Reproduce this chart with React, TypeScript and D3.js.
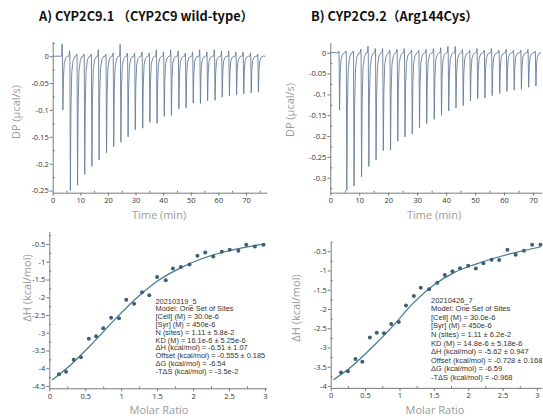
import React, { useEffect, useRef } from "react";
import * as d3 from "d3";

const W = 543;
const H = 416;

// raw thermograms: injection time (min), peak minimum and small upward kick (µcal/s)
const timesA = [3.5, 6.2, 8.8, 11.4, 14.0, 16.6, 19.3, 21.9, 24.5, 27.1, 29.7, 32.4, 35.0, 37.6, 40.2, 42.8, 45.5, 48.1, 50.7, 53.3, 55.9, 58.6, 61.2, 63.8, 66.4, 69.0, 71.7, 74.3];
const peaksA = [-0.1, -0.25, -0.24, -0.22, -0.205, -0.193, -0.18, -0.168, -0.16, -0.15, -0.137, -0.134, -0.123, -0.125, -0.112, -0.11, -0.098, -0.096, -0.087, -0.088, -0.083, -0.082, -0.076, -0.074, -0.072, -0.07, -0.068, -0.067];
const kicksA = [0.023, 0.01, 0.004, 0.004, 0.004, 0.012, 0.004, 0.006, 0.022, 0.006, 0.006, 0.008, 0.006, 0.012, 0.008, 0.012, 0.01, 0.006, 0.008, 0.012, 0.008, 0.012, 0.01, 0.01, 0.008, 0.008, 0.006, 0.004];

const timesB = [3.0, 5.5, 8.0, 10.6, 13.1, 15.6, 18.1, 20.6, 23.1, 25.6, 28.1, 30.6, 33.1, 35.7, 38.2, 40.7, 43.2, 45.7, 48.2, 50.7, 53.2, 55.7, 58.3, 60.8, 63.3, 65.8, 68.3, 70.8];
const peaksB = [-0.138, -0.331, -0.32, -0.298, -0.273, -0.257, -0.235, -0.233, -0.212, -0.202, -0.195, -0.18, -0.17, -0.16, -0.15, -0.14, -0.133, -0.127, -0.116, -0.11, -0.109, -0.103, -0.098, -0.093, -0.09, -0.088, -0.083, -0.08];
const kicksB = [0.004, 0.004, 0.004, 0.008, 0.016, 0.01, 0.01, 0.006, 0.008, 0.01, 0.006, 0.006, 0.008, 0.01, 0.012, 0.015, 0.015, 0.008, 0.006, 0.01, 0.006, 0.01, 0.006, 0.008, 0.006, 0.006, 0.008, 0.004];

// integrated heats (kcal/mol) vs molar ratio
const ratioA = [0.135, 0.233, 0.34, 0.44, 0.55, 0.65, 0.75, 0.86, 0.97, 1.07, 1.18, 1.29, 1.39, 1.5, 1.62, 1.72, 1.83, 1.95, 2.06, 2.17, 2.28, 2.4, 2.51, 2.63, 2.74, 2.86, 2.98];
const heatA = [-4.17, -4.1, -3.76, -3.69, -3.17, -3.1, -2.87, -2.58, -2.59, -2.07, -2.18, -1.86, -1.94, -1.43, -1.52, -1.19, -1.15, -1.08, -0.83, -0.74, -0.85, -0.72, -0.66, -0.69, -0.52, -0.57, -0.52];
const fitRatioA = [0.04, 0.3, 0.6, 0.9, 1.2, 1.5, 1.8, 2.1, 2.4, 2.7, 3.0];
const fitHeatA = [-4.33, -3.9, -3.3, -2.65, -2.05, -1.55, -1.2, -0.93, -0.74, -0.6, -0.5];

const ratioB = [0.15, 0.25, 0.36, 0.46, 0.57, 0.67, 0.775, 0.88, 0.99, 1.095, 1.21, 1.31, 1.43, 1.55, 1.66, 1.77, 1.88, 2.0, 2.11, 2.22, 2.34, 2.45, 2.57, 2.69, 2.81, 2.93, 3.05];
const heatB = [-3.65, -3.62, -3.3, -3.37, -2.74, -2.62, -2.63, -2.39, -2.34, -1.91, -1.66, -1.45, -1.49, -1.32, -1.12, -1.02, -0.94, -0.88, -0.95, -0.81, -0.72, -0.73, -0.46, -0.59, -0.49, -0.33, -0.33];
const fitRatioB = [0.04, 0.3, 0.6, 0.9, 1.2, 1.5, 1.8, 2.1, 2.4, 2.7, 3.05];
const fitHeatB = [-3.84, -3.5, -3.0, -2.45, -1.85, -1.38, -1.05, -0.84, -0.67, -0.53, -0.39];

const infoA = [
  "20210319_5",
  "Model: One Set of Sites",
  "[Cell] (M) = 30.0e-6",
  "[Syr] (M) = 450e-6",
  "N (sites) = 1.11 ± 5.8e-2",
  "KD (M) = 16.1e-6 ± 5.25e-6",
  "ΔH (kcal/mol) = -6.51 ± 1.07",
  "Offset (kcal/mol) = -0.555 ± 0.185",
  "ΔG (kcal/mol) = -6.54",
  "-TΔS (kcal/mol) = -3.5e-2",
];
const infoB = [
  "20210426_7",
  "Model: One Set of Sites",
  "[Cell] (M) = 30.0e-6",
  "[Syr] (M) = 450e-6",
  "N (sites) = 1.11 ± 6.2e-2",
  "KD (M) = 14.8e-6 ± 5.18e-6",
  "ΔH (kcal/mol) = -5.62 ± 0.947",
  "Offset (kcal/mol) = -0.728 ± 0.168",
  "ΔG (kcal/mol) = -6.59",
  "-TΔS (kcal/mol) = -0.968",
];

const timeTicks = [0, 10, 20, 30, 40, 50, 60, 70];
const timeMinor = [5, 15, 25, 35, 45, 55, 65, 75];
const dpTicksA = [0, -0.05, -0.1, -0.15, -0.2, -0.25];
const dpTicksB = [0, -0.05, -0.1, -0.15, -0.2, -0.25, -0.3];
const dpMinor = [0.025, -0.025, -0.075, -0.125, -0.175, -0.225, -0.275, -0.325];
const ratioTicks = [0, 0.5, 1, 1.5, 2, 2.5, 3];
const ratioMinor = [0.25, 0.75, 1.25, 1.75, 2.25, 2.75];
const heatTicksA = [-0.5, -1, -1.5, -2, -2.5, -3, -3.5, -4, -4.5];
const heatTicksB = [-0.5, -1, -1.5, -2, -2.5, -3, -3.5, -4];
const heatMinor = [-0.25, -0.75, -1.25, -1.75, -2.25, -2.75, -3.25, -3.75, -4.25];

const AXIS = "#6b6b6b";
const TICK_FONT = "'Open Sans', 'DejaVu Sans', sans-serif";

const drawAxes = (g, x, y, xT, xM, yT, yM) => {
  const [x0] = x.range();
  const [y0] = y.range();
  const inX = (v) => v >= Math.min(...x.domain()) && v <= Math.max(...x.domain());
  const inY = (v) => v >= Math.min(...y.domain()) && v <= Math.max(...y.domain());

  const gx = g
    .append("g")
    .attr("transform", `translate(0,${y0})`)
    .call(d3.axisBottom(x).tickValues(xT).tickSize(3).tickSizeOuter(0).tickPadding(2).tickFormat((d) => String(d)));
  g.append("g")
    .attr("transform", `translate(0,${y0})`)
    .call(d3.axisBottom(x).tickValues(xM.filter(inX)).tickSize(-2).tickFormat(() => ""))
    .call((s) => s.select(".domain").remove());

  const gy = g
    .append("g")
    .attr("transform", `translate(${x0},0)`)
    .call(d3.axisLeft(y).tickValues(yT).tickSize(3).tickSizeOuter(0).tickPadding(1).tickFormat((d) => String(d)));
  g.append("g")
    .attr("transform", `translate(${x0},0)`)
    .call(d3.axisLeft(y).tickValues(yM.filter(inY)).tickSize(-2).tickFormat(() => ""))
    .call((s) => s.select(".domain").remove());

  g.selectAll(".domain, .tick line").attr("stroke", AXIS).attr("stroke-width", 0.9);
  [gx, gy].forEach((a) =>
    a.selectAll("text").attr("font-size", 7.5).attr("font-family", TICK_FONT).attr("fill", "#333")
  );
};

const axisTitle = (g, text, cx, cy, rotate) => {
  g.append("text")
    .attr("transform", `translate(${cx},${cy})${rotate ? " rotate(-90)" : ""}`)
    .attr("text-anchor", "middle")
    .attr("dominant-baseline", "central")
    .attr("font-family", TICK_FONT)
    .attr("font-size", 11)
    .attr("fill", "#9a9a9a")
    .text(text);
};

const thermogram = (g, times, peaks, kicks, x, y) => {
  const pts = [[0, 0]];
  times.forEach((t, i) => {
    const p = peaks[i];
    pts.push([t - 0.25, 0], [t - 0.08, kicks[i]], [t + 0.02, 0], [t + 0.2, p], [t + 0.4, p * 0.4], [t + 0.7, p * 0.12], [t + 1.2, p * 0.03], [t + 1.9, 0]);
  });
  pts.push([x.domain()[1] - 0.5, 0]);
  g.append("path")
    .datum(pts)
    .attr("fill", "none")
    .attr("stroke", "#667f99")
    .attr("stroke-width", 0.9)
    .attr("stroke-linejoin", "round")
    .attr("d", d3.line().x((d) => x(d[0])).y((d) => y(d[1])));
};

const isotherm = (g, ratio, heat, fitR, fitH, x, y) => {
  g.append("path")
    .datum(fitR.map((r, i) => [r, fitH[i]]))
    .attr("fill", "none")
    .attr("stroke", "#3f7a8c")
    .attr("stroke-width", 1.2)
    .attr("d", d3.line().curve(d3.curveMonotoneX).x((d) => x(d[0])).y((d) => y(d[1])));
  g.selectAll(null)
    .data(ratio.map((r, i) => [r, heat[i]]))
    .enter()
    .append("circle")
    .attr("cx", (d) => x(d[0]))
    .attr("cy", (d) => y(d[1]))
    .attr("r", 2)
    .attr("fill", "#405e7a");
};

const infoText = (g, lines, x0, y0, lh, fs) => {
  const t = g
    .append("text")
    .attr("font-family", "'Liberation Sans', Arial, sans-serif")
    .attr("font-size", fs)
    .attr("fill", "#333");
  lines.forEach((l, i) => {
    t.append("tspan").attr("x", x0).attr("y", y0 + i * lh).text(l);
  });
};

const App = () => {
  const ref = useRef(null);

  useEffect(() => {
    const svg = d3.select(ref.current);
    svg.selectAll("*").remove();
    svg.append("rect").attr("width", W).attr("height", H).attr("fill", "#fff");

    // titles
    const title = (text, x) =>
      svg
        .append("text")
        .attr("x", x)
        .attr("y", 21)
        .attr("font-family", "'Noto Sans CJK SC', sans-serif")
        .attr("font-weight", "bold")
        .attr("font-size", 12.8)
        .attr("fill", "#111")
        .text(text);
    title("A) CYP2C9.1 （CYP2C9 wild-type）", 39);
    title("B) CYP2C9.2（Arg144Cys）", 311);

    // A thermogram
    const gA = svg.append("g");
    const xA = d3.scaleLinear().domain([0, 77.5]).range([52.7, 266.7]);
    const yA = d3.scaleLinear().domain([-0.254, 0.027]).range([192.7, 41.7]);
    thermogram(gA, timesA, peaksA, kicksA, xA, yA);
    drawAxes(gA, xA, yA, timeTicks, timeMinor, dpTicksA, dpMinor);
    axisTitle(gA, "DP (µcal/s)", 15, 112, true);
    axisTitle(gA, "Time (min)", 159, 214, false);

    // B thermogram
    const gB = svg.append("g");
    const xB = d3.scaleLinear().domain([0, 73]).range([330.3, 541.7]);
    const yB = d3.scaleLinear().domain([-0.336, 0.024]).range([192.7, 42.7]);
    thermogram(gB, timesB, peaksB, kicksB, xB, yB);
    drawAxes(gB, xB, yB, timeTicks, timeMinor, dpTicksB, dpMinor);
    axisTitle(gB, "DP (µcal/s)", 289, 110, true);
    axisTitle(gB, "Time (min)", 434, 214, false);

    // A isotherm
    const gC = svg.append("g");
    const xC = d3.scaleLinear().domain([0, 3.02]).range([49.3, 266.4]);
    const yC = d3.scaleLinear().domain([-4.565, -0.15]).range([388.3, 231.6]);
    isotherm(gC, ratioA, heatA, fitRatioA, fitHeatA, xC, yC);
    drawAxes(gC, xC, yC, ratioTicks, ratioMinor, heatTicksA, heatMinor);
    axisTitle(gC, "ΔH (kcal/mol)", 26, 288, true);
    axisTitle(gC, "Molar Ratio", 159, 409, false);
    infoText(gC, infoA, 155.5, 303.5, 7.8, 7.4);

    // B isotherm
    const gD = svg.append("g");
    const xD = d3.scaleLinear().domain([0, 3.07]).range([330.7, 541.8]);
    const yD = d3.scaleLinear().domain([-4.05, -0.25]).range([387.9, 241.6]);
    isotherm(gD, ratioB, heatB, fitRatioB, fitHeatB, xD, yD);
    drawAxes(gD, xD, yD, ratioTicks, ratioMinor, heatTicksB, heatMinor);
    axisTitle(gD, "ΔH (kcal/mol)", 295, 308, true);
    axisTitle(gD, "Molar Ratio", 435, 409, false);
    infoText(gD, infoB, 431, 302.5, 8.6, 7.5);
  }, []);

  return (
    <svg
      ref={ref}
      width={W}
      height={H}
      style={{ position: "absolute", left: 0, top: 0, display: "block" }}
    />
  );
};

export default App;
